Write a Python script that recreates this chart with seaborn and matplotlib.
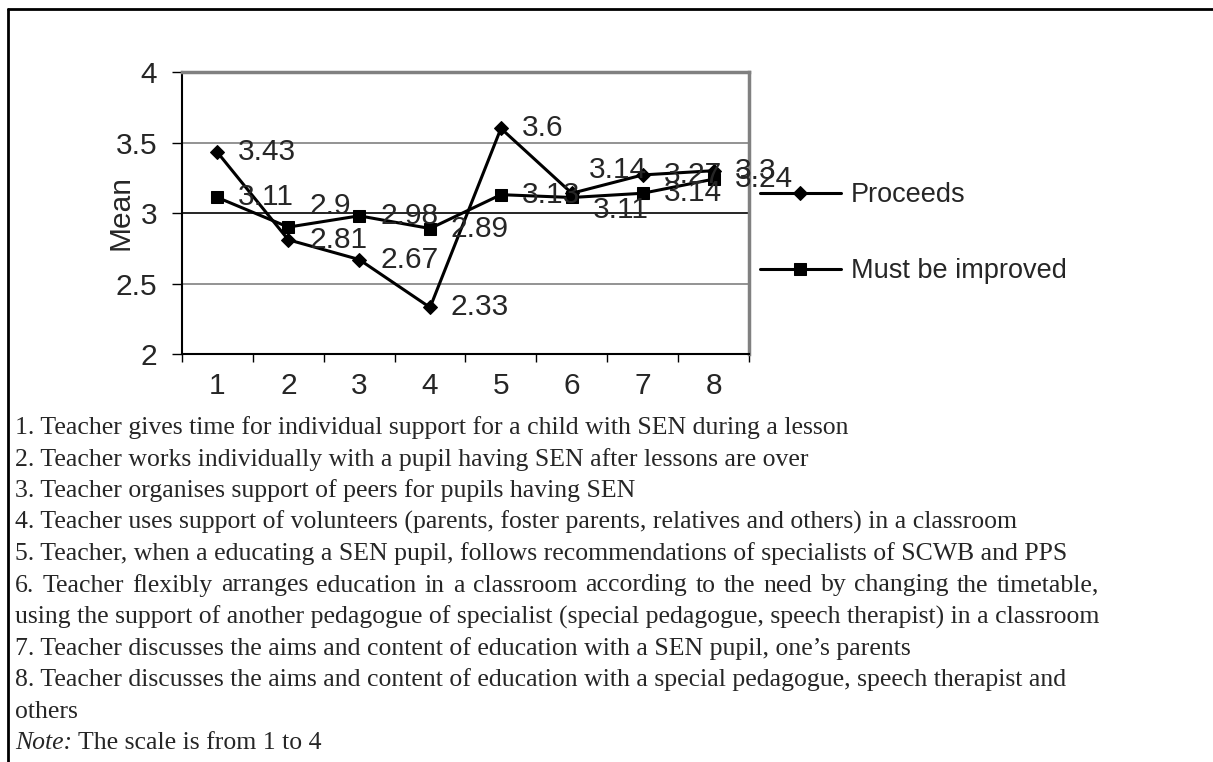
import pandas as pd
import matplotlib.pyplot as plt
import seaborn as sns
from matplotlib.lines import Line2D

items = [1, 2, 3, 4, 5, 6, 7, 8]
proceeds = [3.43, 2.81, 2.67, 2.33, 3.6, 3.14, 3.27, 3.3]
improved = [3.11, 2.9, 2.98, 2.89, 3.13, 3.11, 3.14, 3.24]
series_names = ['Proceeds', 'Must be improved']
y_ticks = [2, 2.5, 3, 3.5, 4]

notes = [
    "1. Teacher gives time for individual support for a child with SEN during a lesson",
    "2. Teacher works individually with a pupil having SEN after lessons are over",
    "3. Teacher organises support of peers for pupils having SEN",
    "4. Teacher uses support of volunteers (parents, foster parents, relatives and others) in a classroom",
    "5. Teacher, when a educating a SEN pupil, follows recommendations of specialists of SCWB and PPS",
    "6. Teacher flexibly arranges education in a classroom according to the need by changing the timetable,",
    "using the support of another pedagogue of specialist (special pedagogue, speech therapist) in a classroom",
    "7. Teacher discusses the aims and content of education with a SEN pupil, one\u2019s parents",
    "8. Teacher discusses the aims and content of education with a special pedagogue, speech therapist and",
    "others",
]
note_label = "Note:"
note_text = " The scale is from 1 to 4"

df = pd.DataFrame({
    'item': items * 2,
    'mean': proceeds + improved,
    'series': [series_names[0]] * len(items) + [series_names[1]] * len(items),
})

sns.set_style('white')
plt.rcParams['font.family'] = ['Liberation Sans', 'DejaVu Sans']

W, H = 1213, 762
fig = plt.figure(figsize=(W / 100, H / 100), dpi=100)
ax = fig.add_axes([182 / W, 1 - 354 / H, (749 - 182) / W, (354 - 72) / H])

sns.lineplot(data=df, x='item', y='mean', hue='series', style='series',
             markers={'Proceeds': 'D', 'Must be improved': 's'}, dashes=False,
             palette={'Proceeds': 'black', 'Must be improved': 'black'},
             linewidth=2.2, markersize=8, markeredgecolor='black', ax=ax)
for line in ax.lines:
    if line.get_marker() == 'D':
        line.set_markersize(7)

# data labels to the right of each point (a few were nudged by hand in the original)
lab_fs = 21.5
nudge_p = {6: (12, 17)}
nudge_i = {2: (15, 15), 6: (15, -9)}
for x, v in zip(items, proceeds):
    ax.annotate(f"{v:g}", (x, v), xytext=nudge_p.get(x, (15, 0)), textcoords='offset points',
                va='center', ha='left', fontsize=lab_fs)
for x, v in zip(items, improved):
    ax.annotate(f"{v:g}", (x, v), xytext=nudge_i.get(x, (15, 0)), textcoords='offset points',
                va='center', ha='left', fontsize=lab_fs)

ax.set_xlim(0.5, 8.5)
ax.set_ylim(2, 4)
ax.set_yticks(y_ticks)
ax.set_yticklabels([f"{t:g}" for t in y_ticks], fontsize=lab_fs)
ax.set_xticks(items)
ax.set_xticklabels([str(i) for i in items], fontsize=lab_fs)
ax.set_xticks([i + 0.5 for i in range(0, 9)], minor=True)
ax.tick_params(axis='x', which='major', length=0, pad=13)
ax.tick_params(axis='x', which='minor', length=6, width=1, color='black', direction='out', bottom=True)
ax.tick_params(axis='y', length=7, width=1, color='black', direction='out', left=True, pad=11)
ax.set_xlabel('')
ax.set_ylabel('Mean', fontsize=lab_fs)
ax.yaxis.set_label_coords(-0.083, 0.5)

for y in [2.5, 3.5]:
    ax.axhline(y, color='#808080', lw=1.2, zorder=0)
ax.axhline(3, color='black', lw=1.2, zorder=0)

for s in ['left', 'bottom']:
    ax.spines[s].set_color('black')
    ax.spines[s].set_linewidth(1.5)
for s in ['top', 'right']:
    ax.spines[s].set_color('#808080')
    ax.spines[s].set_linewidth(2.5)

handles, labels = ax.get_legend_handles_labels()
ax.legend(handles, labels, loc='center left', bbox_to_anchor=(1.019, 0.428),
          frameon=False, fontsize=19.5, handlelength=3.0, handletextpad=0.35,
          labelspacing=1.85, borderpad=0, borderaxespad=0)

# outer frame (top and left)
fig.add_artist(Line2D([8 / W, 8 / W], [0, 1 - 9 / H], transform=fig.transFigure, color='black', lw=2))
fig.add_artist(Line2D([8 / W, 1], [1 - 9 / H, 1 - 9 / H], transform=fig.transFigure, color='black', lw=2))

# notes under the chart
serif = ['Liberation Serif', 'DejaVu Serif']
fs = 18.5
x0 = 15
y0 = 428
step = 31.5
renderer = fig.canvas.get_renderer()
right_edge = None
for i, line in enumerate(notes):
    py = y0 + i * step
    if i == 5:
        continue
    t = fig.text(x0 / W, 1 - py / H, line, family=serif, fontsize=fs, va='center', ha='left')
    if i == 6:
        right_edge = t.get_window_extent(renderer).x1

# justified line 6
words = notes[5].split(' ')
tmp = [fig.text(0, 0, w, family=serif, fontsize=fs) for w in words]
widths = [t.get_window_extent(renderer).width for t in tmp]
for t in tmp:
    t.remove()
gap = (right_edge - x0 - sum(widths)) / (len(words) - 1)
cx = x0
py = y0 + 5 * step
for w, wd in zip(words, widths):
    fig.text(cx / W, 1 - py / H, w, family=serif, fontsize=fs, va='center', ha='left')
    cx += wd + gap

py = y0 + len(notes) * step
nt = fig.text(x0 / W, 1 - py / H, note_label, family=serif, fontsize=fs, style='italic', va='center', ha='left')
nx = nt.get_window_extent(renderer).x1
fig.text(nx / W, 1 - py / H, note_text, family=serif, fontsize=fs, va='center', ha='left')

fig.savefig('out.png', dpi=100)
